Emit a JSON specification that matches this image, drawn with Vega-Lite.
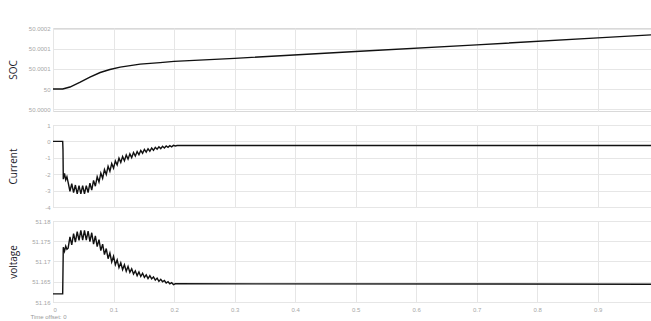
{
  "$schema": "https://vega.github.io/schema/vega-lite/v6.json",
  "padding": {"left": 7, "top": 25, "right": 0, "bottom": 0},
  "background": "white",
  "bounds": "flush",
  "spacing": 14,
  "title": {"text": "Time offset:  0", "orient": "bottom", "anchor": "start", "fontSize": 6, "color": "#999999", "font": "Liberation Sans", "fontWeight": "normal", "offset": 1, "dx": 23},
  "config": {
    "view": {"stroke": "#d9d9d9", "strokeWidth": 1},
    "axis": {"labelFont": "Liberation Sans", "labelFontSize": 6, "labelColor": "#a6a6a6", "gridColor": "#e6e6e6", "domain": false, "ticks": false, "titleFont": "Open Sans", "titleFontSize": 10, "titleFontWeight": "normal", "titleColor": "#1b1b2b"},
    "line": {"color": "#111111", "strokeWidth": 1.4}
  },
  "datasets": {
    "soc": [
      {"t": 0, "v": 50.0}, {"t": 0.016, "v": 50.0}, {"t": 0.028, "v": 50.0000067}, {"t": 0.045, "v": 50.000023},
      {"t": 0.061, "v": 50.00004}, {"t": 0.078, "v": 50.000055}, {"t": 0.094, "v": 50.000065}, {"t": 0.111, "v": 50.000073},
      {"t": 0.144, "v": 50.000083}, {"t": 0.177, "v": 50.000088}, {"t": 0.2, "v": 50.000092}, {"t": 0.3, "v": 50.000102},
      {"t": 0.5, "v": 50.000125}, {"t": 0.7, "v": 50.000147}, {"t": 0.9, "v": 50.00017}, {"t": 0.988, "v": 50.00018}
    ],
    "current": [
      {"t": 0, "v": 0}, {"t": 0.016, "v": 0}, {"t": 0.0165, "v": -0.5}, {"t": 0.017, "v": -2.3}, {"t": 0.019, "v": -1.95},
      {"t": 0.021, "v": -2.35}, {"t": 0.023, "v": -2.15}, {"t": 0.025, "v": -2.5}, {"t": 0.028, "v": -3.04},
      {"t": 0.031, "v": -2.58}, {"t": 0.034, "v": -3.12}, {"t": 0.037, "v": -2.66}, {"t": 0.040, "v": -3.2},
      {"t": 0.043, "v": -2.7}, {"t": 0.046, "v": -3.2}, {"t": 0.049, "v": -2.7}, {"t": 0.052, "v": -3.2},
      {"t": 0.055, "v": -2.7}, {"t": 0.058, "v": -3.125}, {"t": 0.061, "v": -2.55}, {"t": 0.064, "v": -2.975},
      {"t": 0.067, "v": -2.38}, {"t": 0.070, "v": -2.73}, {"t": 0.073, "v": -2.15}, {"t": 0.076, "v": -2.48},
      {"t": 0.079, "v": -1.93}, {"t": 0.082, "v": -2.25}, {"t": 0.085, "v": -1.72}, {"t": 0.088, "v": -2.02},
      {"t": 0.091, "v": -1.52}, {"t": 0.094, "v": -1.82}, {"t": 0.097, "v": -1.35}, {"t": 0.100, "v": -1.63},
      {"t": 0.103, "v": -1.19}, {"t": 0.106, "v": -1.44}, {"t": 0.109, "v": -1.02}, {"t": 0.112, "v": -1.28},
      {"t": 0.115, "v": -0.92}, {"t": 0.118, "v": -1.18}, {"t": 0.121, "v": -0.83}, {"t": 0.124, "v": -1.08},
      {"t": 0.127, "v": -0.76}, {"t": 0.130, "v": -0.99}, {"t": 0.133, "v": -0.68}, {"t": 0.136, "v": -0.9},
      {"t": 0.139, "v": -0.62}, {"t": 0.142, "v": -0.81}, {"t": 0.145, "v": -0.55}, {"t": 0.148, "v": -0.72},
      {"t": 0.151, "v": -0.49}, {"t": 0.154, "v": -0.65}, {"t": 0.157, "v": -0.45}, {"t": 0.160, "v": -0.6},
      {"t": 0.163, "v": -0.4}, {"t": 0.166, "v": -0.54}, {"t": 0.169, "v": -0.36}, {"t": 0.172, "v": -0.48},
      {"t": 0.175, "v": -0.33}, {"t": 0.178, "v": -0.44}, {"t": 0.181, "v": -0.3}, {"t": 0.184, "v": -0.4},
      {"t": 0.187, "v": -0.28}, {"t": 0.190, "v": -0.36}, {"t": 0.193, "v": -0.26}, {"t": 0.196, "v": -0.33},
      {"t": 0.199, "v": -0.24}, {"t": 0.202, "v": -0.28}, {"t": 0.205, "v": -0.25}, {"t": 0.988, "v": -0.25}
    ],
    "voltage": [
      {"t": 0, "v": 51.162}, {"t": 0.016, "v": 51.162}, {"t": 0.017, "v": 51.1735}, {"t": 0.019, "v": 51.1725},
      {"t": 0.021, "v": 51.1738}, {"t": 0.023, "v": 51.173}, {"t": 0.025, "v": 51.1733}, {"t": 0.028, "v": 51.1761},
      {"t": 0.031, "v": 51.1741}, {"t": 0.034, "v": 51.1769}, {"t": 0.037, "v": 51.1748}, {"t": 0.040, "v": 51.1774},
      {"t": 0.043, "v": 51.1752}, {"t": 0.046, "v": 51.1777}, {"t": 0.049, "v": 51.1753}, {"t": 0.052, "v": 51.1777},
      {"t": 0.055, "v": 51.1753}, {"t": 0.058, "v": 51.1775}, {"t": 0.061, "v": 51.1749}, {"t": 0.064, "v": 51.1771},
      {"t": 0.067, "v": 51.1743}, {"t": 0.070, "v": 51.1763}, {"t": 0.073, "v": 51.1737}, {"t": 0.076, "v": 51.1754},
      {"t": 0.079, "v": 51.1727}, {"t": 0.082, "v": 51.1743}, {"t": 0.085, "v": 51.1717}, {"t": 0.088, "v": 51.1732},
      {"t": 0.091, "v": 51.1707}, {"t": 0.094, "v": 51.1721}, {"t": 0.097, "v": 51.1699}, {"t": 0.100, "v": 51.1713},
      {"t": 0.103, "v": 51.1692}, {"t": 0.106, "v": 51.1704}, {"t": 0.109, "v": 51.1685}, {"t": 0.112, "v": 51.1697},
      {"t": 0.115, "v": 51.168}, {"t": 0.118, "v": 51.1692}, {"t": 0.121, "v": 51.1676}, {"t": 0.124, "v": 51.1688},
      {"t": 0.127, "v": 51.1673}, {"t": 0.130, "v": 51.1682}, {"t": 0.133, "v": 51.1669}, {"t": 0.136, "v": 51.1677},
      {"t": 0.139, "v": 51.1665}, {"t": 0.142, "v": 51.1674}, {"t": 0.145, "v": 51.1663}, {"t": 0.148, "v": 51.1671},
      {"t": 0.151, "v": 51.1661}, {"t": 0.154, "v": 51.1667}, {"t": 0.157, "v": 51.1658}, {"t": 0.160, "v": 51.1665},
      {"t": 0.163, "v": 51.1657}, {"t": 0.166, "v": 51.1662}, {"t": 0.169, "v": 51.1654}, {"t": 0.172, "v": 51.1659},
      {"t": 0.175, "v": 51.1651}, {"t": 0.178, "v": 51.1656}, {"t": 0.181, "v": 51.165}, {"t": 0.184, "v": 51.1653},
      {"t": 0.187, "v": 51.1647}, {"t": 0.190, "v": 51.165}, {"t": 0.193, "v": 51.1645}, {"t": 0.196, "v": 51.1648},
      {"t": 0.199, "v": 51.1643}, {"t": 0.202, "v": 51.1645}, {"t": 0.988, "v": 51.1644}
    ]
  },
  "vconcat": [
    {
      "width": 598, "height": 83,
      "data": {"name": "soc"},
      "mark": {"type": "line", "clip": true},
      "encoding": {
        "x": {"field": "t", "type": "quantitative", "scale": {"domain": [0, 0.988], "nice": false},
              "axis": {"values": [0, 0.1, 0.2, 0.3, 0.4, 0.5, 0.6, 0.7, 0.8, 0.9], "labels": false, "title": null}},
        "y": {"field": "v", "type": "quantitative", "scale": {"domain": [49.999927, 50.000203], "nice": false, "zero": false},
              "axis": {"values": [49.9999333, 50, 50.0000667, 50.0001333, 50.0002],
                       "labelExpr": "datum.value > 50.00018 ? '50.0002' : datum.value > 50.00003 ? '50.0001' : datum.value > 49.99999 ? '50' : '50.0000'",
                       "labelPadding": 3, "title": "SOC", "titleX": -40, "titleAngle": 270, "titleBaseline": "middle", "titleAlign": "center"}}
      }
    },
    {
      "width": 598, "height": 82,
      "data": {"name": "current"},
      "mark": {"type": "line", "clip": true},
      "encoding": {
        "x": {"field": "t", "type": "quantitative", "scale": {"domain": [0, 0.988], "nice": false},
              "axis": {"values": [0, 0.1, 0.2, 0.3, 0.4, 0.5, 0.6, 0.7, 0.8, 0.9], "labels": false, "title": null}},
        "y": {"field": "v", "type": "quantitative", "scale": {"domain": [-4, 1], "nice": false, "zero": false},
              "axis": {"values": [-4, -3, -2, -1, 0, 1], "labelExpr": "datum.value + ''",
                       "labelPadding": 3, "title": "Current", "titleX": -40, "titleAngle": 270, "titleBaseline": "middle", "titleAlign": "center"}}
      }
    },
    {
      "width": 598, "height": 81,
      "data": {"name": "voltage"},
      "mark": {"type": "line", "clip": true},
      "encoding": {
        "x": {"field": "t", "type": "quantitative", "scale": {"domain": [0, 0.988], "nice": false},
              "axis": {"values": [0, 0.1, 0.2, 0.3, 0.4, 0.5, 0.6, 0.7, 0.8, 0.9], "labelExpr": "datum.value + ''", "labelPadding": 4, "title": null}},
        "y": {"field": "v", "type": "quantitative", "scale": {"domain": [51.16, 51.18], "nice": false, "zero": false},
              "axis": {"values": [51.16, 51.165, 51.17, 51.175, 51.18], "format": ".3~f",
                       "labelPadding": 3, "title": "voltage", "titleX": -40, "titleAngle": 270, "titleBaseline": "middle", "titleAlign": "center"}}
      }
    }
  ]
}
